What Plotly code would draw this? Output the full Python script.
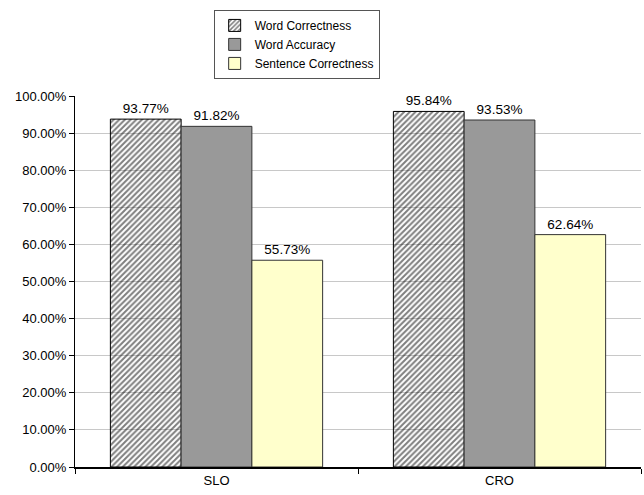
import plotly.graph_objects as go

categories = ["SLO", "CRO"]
word_correctness = [0.9377, 0.9584]
word_accuracy = [0.9182, 0.9353]
sentence_correctness = [0.5573, 0.6264]
y_ticks = [i / 10 for i in range(11)]
y_tick_labels = [f"{v * 100:.2f}%" for v in y_ticks]

font = dict(family="Liberation Sans, Arial, sans-serif", color="black")

fig = go.Figure()
fig.add_trace(go.Bar(
    name="Word Correctness", x=categories, y=word_correctness,
    text=[f"{v * 100:.2f}%" for v in word_correctness], textposition="outside",
    marker=dict(color="rgba(255,255,255,0)", line=dict(color="black", width=1),
                pattern=dict(shape="/", fgcolor="black", bgcolor="rgba(255,255,255,0)",
                             size=4, solidity=0.5)),
))
fig.add_trace(go.Bar(
    name="Word Accuracy", x=categories, y=word_accuracy,
    text=[f"{v * 100:.2f}%" for v in word_accuracy], textposition="outside",
    marker=dict(color="#999999", line=dict(color="#333333", width=1)),
))
fig.add_trace(go.Bar(
    name="Sentence Correctness", x=categories, y=sentence_correctness,
    text=[f"{v * 100:.2f}%" for v in sentence_correctness], textposition="outside",
    marker=dict(color="#FFFFCC", line=dict(color="#333333", width=1)),
))

fig.update_traces(textfont=dict(size=13.5, color="black"), cliponaxis=False)

fig.update_layout(
    width=644, height=495,
    margin=dict(l=75, r=3, t=96, b=28),
    paper_bgcolor="white", plot_bgcolor="white",
    font=font,
    barmode="group", bargap=0.25, bargroupgap=0,
    legend=dict(
        x=0.245, y=1.232, xanchor="left", yanchor="top",
        bordercolor="#555555", borderwidth=1, bgcolor="white",
        font=dict(size=12), tracegroupgap=0, itemwidth=30,
    ),
    showlegend=True,
)
fig.update_yaxes(
    range=[0, 1], tickvals=y_ticks, ticktext=y_tick_labels,
    showgrid=True, gridcolor="#c8c8c8", gridwidth=1,
    showline=True, linecolor="black", linewidth=1,
    ticks="outside", ticklen=5, tickcolor="black",
    tickfont=dict(size=13), zeroline=False,
)
fig.update_xaxes(
    showline=True, linecolor="black", linewidth=2,
    ticks="outside", ticklen=5, tickcolor="black", tickson="boundaries",
    tickfont=dict(size=13), showgrid=False,
)

fig.write_html("out.html")
